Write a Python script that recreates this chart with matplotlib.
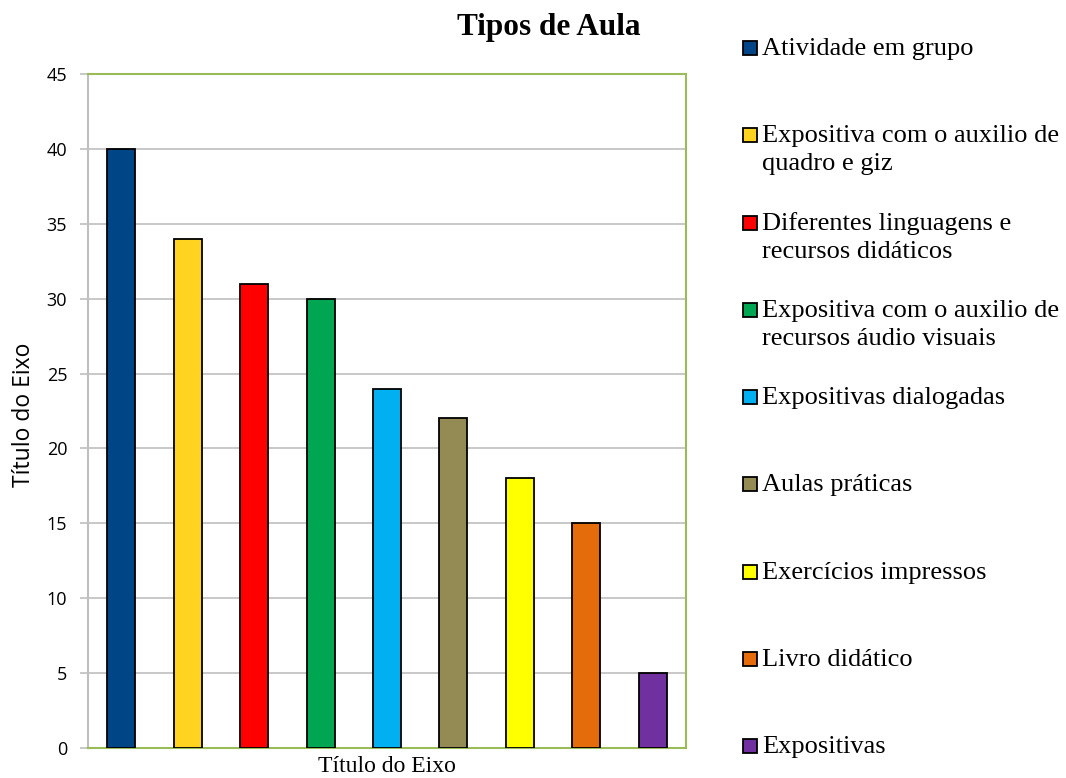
import matplotlib
matplotlib.use("Agg")
import matplotlib.pyplot as plt
from matplotlib.patches import Rectangle

categories = [
    "Atividade em grupo",
    "Expositiva com o auxilio de\nquadro e giz",
    "Diferentes linguagens e\nrecursos didáticos",
    "Expositiva com o auxilio de\nrecursos áudio visuais",
    "Expositivas dialogadas",
    "Aulas práticas",
    "Exercícios impressos",
    "Livro didático",
    "Expositivas",
]
values = [40, 34, 31, 30, 24, 22, 18, 15, 5]
colors = ["#004586", "#FFD320", "#FF0000", "#00A651", "#00B0F0",
          "#948A54", "#FFFF00", "#E46C0A", "#7030A0"]
yticks = [0, 5, 10, 15, 20, 25, 30, 35, 40, 45]

W, H = 1066, 778
fig = plt.figure(figsize=(W / 100, H / 100), dpi=100)
ax = fig.add_axes([88 / W, 1 - 748 / H, (686 - 88) / W, (748 - 74) / H])

x = list(range(len(values)))
ax.bar(x, values, width=0.42, color=colors, edgecolor="black", linewidth=1.3, zorder=3)
ax.set_xlim(-0.5, len(values) - 0.5)
ax.set_ylim(0, 45)
ax.set_yticks(yticks)
ax.set_xticks([])
ax.yaxis.grid(True, color="#BFBFBF", linewidth=1.2, zorder=0)
ax.tick_params(axis="y", length=6, color="#BFBFBF", width=1.2,
               labelsize=13, pad=9)
for lbl in ax.get_yticklabels():
    lbl.set_family("Open Sans")

for side in ("top", "right", "bottom"):
    ax.spines[side].set_color("#9BBB59")
    ax.spines[side].set_linewidth(1.5)
ax.spines["left"].set_color("#BFBFBF")
ax.spines["left"].set_linewidth(1.5)

# axis titles
fig.text(24 / W, 1 - 415 / H, "Título do Eixo", rotation=90, ha="center",
         va="center", fontsize=16.5, family="Open Sans")
fig.text(387 / W, 1 - 767 / H, "Título do Eixo", ha="center", va="center",
         fontsize=17, family="Liberation Serif")

fig.text(549 / W, 1 - 27 / H, "Tipos de Aula", ha="center", va="center",
         fontsize=22.5, fontweight="bold", family="Liberation Serif")

# legend drawn entry by entry
y0, dy = 48, 87.25
sq = 14
line_h = 28
for i, (cat, col) in enumerate(zip(categories, colors)):
    yc = y0 + dy * i
    fig.add_artist(Rectangle((743 / W, 1 - (yc + sq / 2) / H), sq / W, sq / H,
                             facecolor=col, edgecolor="black", linewidth=1.3,
                             transform=fig.transFigure))
    for k, line in enumerate(cat.split("\n")):
        fig.text(762 / W, 1 - (yc + 1 + line_h * k) / H, line, ha="left",
                 va="center", fontsize=19, family="Liberation Serif")

fig.savefig("out.png", dpi=100)
